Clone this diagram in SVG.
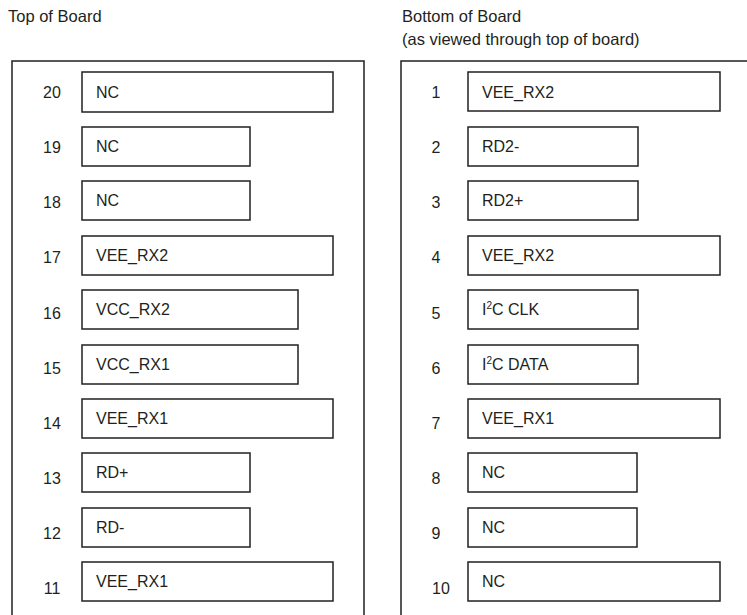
<svg xmlns="http://www.w3.org/2000/svg" width="747" height="615" viewBox="0 0 747 615">
<style>
text{font-family:"Liberation Sans",Arial,sans-serif;font-size:16px;fill:#231f20}
.head{font-size:16.5px}
.pin{fill:#fff;stroke:#231f20;stroke-width:1.5}
.frame{fill:none;stroke:#231f20;stroke-width:1.5}
.num{text-anchor:middle}
</style>
<rect width="747" height="615" fill="#fff"/>
<text class="head" x="8" y="22">Top of Board</text>
<text class="head" x="402" y="22">Bottom of Board</text>
<text class="head" x="402" y="45">(as viewed through top of board)</text>
<g id="frames">
<path class="frame" d="M12,625 V61 H364 V625"/>
<path class="frame" d="M401,625 V61 H760"/>
</g>
<g id="connectors"></g>
<g id="pin20"><rect class="pin" x="82" y="72" width="251" height="40"/><text class="num" x="52" y="98">20</text><text x="96" y="98">NC</text></g>
<g id="pin19"><rect class="pin" x="82" y="127" width="168" height="39"/><text class="num" x="52" y="153">19</text><text x="96" y="152">NC</text></g>
<g id="pin18"><rect class="pin" x="82" y="181" width="168" height="39"/><text class="num" x="52" y="208">18</text><text x="96" y="206">NC</text></g>
<g id="pin17"><rect class="pin" x="82" y="236" width="251" height="39"/><text class="num" x="52" y="263">17</text><text x="96" y="261">VEE_RX2</text></g>
<g id="pin16"><rect class="pin" x="82" y="290" width="216" height="39"/><text class="num" x="52" y="319">16</text><text x="96" y="315">VCC_RX2</text></g>
<g id="pin15"><rect class="pin" x="82" y="345" width="216" height="39"/><text class="num" x="52" y="374">15</text><text x="96" y="370">VCC_RX1</text></g>
<g id="pin14"><rect class="pin" x="82" y="399" width="251" height="39"/><text class="num" x="52" y="429">14</text><text x="96" y="424">VEE_RX1</text></g>
<g id="pin13"><rect class="pin" x="82" y="453" width="168" height="39"/><text class="num" x="52" y="484">13</text><text x="96" y="478">RD+</text></g>
<g id="pin12"><rect class="pin" x="82" y="508" width="168" height="39"/><text class="num" x="52" y="539">12</text><text x="96" y="533">RD-</text></g>
<g id="pin11"><rect class="pin" x="82" y="562" width="251" height="39"/><text class="num" x="52" y="594">11</text><text x="96" y="587">VEE_RX1</text></g>
<g id="pin1"><rect class="pin" x="468" y="72" width="252" height="39"/><text class="num" x="436" y="98">1</text><text x="482" y="98">VEE_RX2</text></g>
<g id="pin2"><rect class="pin" x="468" y="127" width="170" height="39"/><text class="num" x="436" y="153">2</text><text x="482" y="152">RD2-</text></g>
<g id="pin3"><rect class="pin" x="468" y="181" width="170" height="39"/><text class="num" x="436" y="208">3</text><text x="482" y="206">RD2+</text></g>
<g id="pin4"><rect class="pin" x="468" y="236" width="252" height="39"/><text class="num" x="436" y="263">4</text><text x="482" y="261">VEE_RX2</text></g>
<g id="pin5"><rect class="pin" x="468" y="290" width="170" height="39"/><text class="num" x="436" y="319">5</text><text x="482" y="315">I<tspan font-size="10" dy="-6">2</tspan><tspan dy="6">C CLK</tspan></text></g>
<g id="pin6"><rect class="pin" x="468" y="345" width="170" height="39"/><text class="num" x="436" y="374">6</text><text x="482" y="370">I<tspan font-size="10" dy="-6">2</tspan><tspan dy="6">C DATA</tspan></text></g>
<g id="pin7"><rect class="pin" x="468" y="399" width="252" height="39"/><text class="num" x="436" y="429">7</text><text x="482" y="424">VEE_RX1</text></g>
<g id="pin8"><rect class="pin" x="468" y="453" width="169" height="39"/><text class="num" x="436" y="484">8</text><text x="482" y="478">NC</text></g>
<g id="pin9"><rect class="pin" x="468" y="508" width="169" height="39"/><text class="num" x="436" y="539">9</text><text x="482" y="533">NC</text></g>
<g id="pin10"><rect class="pin" x="468" y="562" width="252" height="39"/><text class="num" x="441" y="594">10</text><text x="482" y="587">NC</text></g>
</svg>
